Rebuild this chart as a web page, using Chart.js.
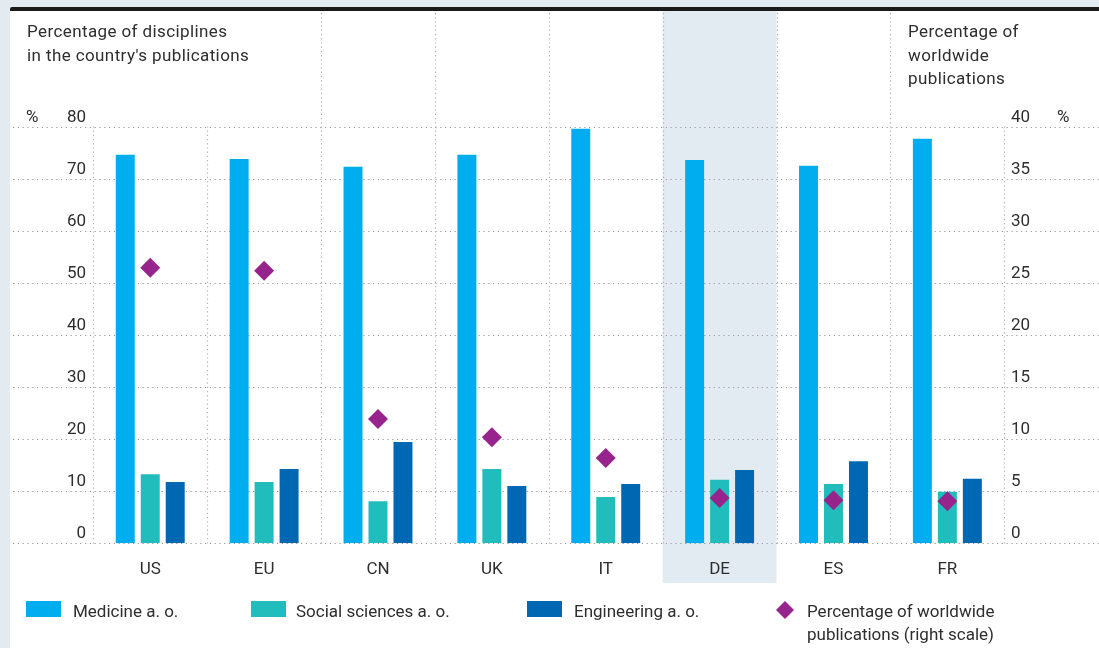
<!DOCTYPE html>
<html>
<head>
<meta charset="utf-8">
<script src="https://cdn.jsdelivr.net/npm/chart.js@4.4.1/dist/chart.umd.min.js"></script>
<style>
  html, body { margin: 0; padding: 0; background: #e3ebf1; }
  body { width: 1099px; height: 648px; position: relative; overflow: hidden; }
  .bar { position: absolute; left: 10px; top: 7px; width: 1089px; height: 4px; background: #1a1a1a; border-top-left-radius: 2px; }
  .panel { position: absolute; left: 10px; top: 11px; width: 1089px; height: 637px; background: #fff; }
  canvas { display: block; }
</style>
</head>
<body>
<div class="bar"></div>
<div class="panel"><canvas id="chart" width="1089" height="637"></canvas></div>
<script>
const CATEGORIES = ['US', 'EU', 'CN', 'UK', 'IT', 'DE', 'ES', 'FR'];
const HIGHLIGHT = 'DE';
const MEDICINE = [74.7, 73.9, 72.4, 74.7, 79.7, 73.7, 72.6, 77.8];
const SOCIAL = [13.3, 11.8, 8.1, 14.3, 8.9, 12.2, 11.4, 9.9];
const ENGINEERING = [11.8, 14.3, 19.5, 11.0, 11.4, 14.1, 15.8, 12.4];
const WORLDWIDE = [26.5, 26.2, 11.95, 10.2, 8.2, 4.35, 4.15, 4.05];
const LEFT_TICKS = [0, 10, 20, 30, 40, 50, 60, 70, 80];
const RIGHT_TICKS = [0, 5, 10, 15, 20, 25, 30, 35, 40];

const C_MED = '#00aeef', C_SOC = '#20bdbc', C_ENG = '#0067b3', C_DIA = '#97248d';
const TXT = '#2e2e2e';
const FONT = '17px Roboto, "DejaVu Sans", sans-serif';

function dotted(ctx, x1, y1, x2, y2, dash, color) {
  ctx.save();
  ctx.strokeStyle = color;
  ctx.lineWidth = 1.2;
  ctx.setLineDash(dash);
  ctx.beginPath();
  ctx.moveTo(x1, y1);
  ctx.lineTo(x2, y2);
  ctx.stroke();
  ctx.restore();
}

const extras = {
  id: 'extras',
  beforeDatasetsDraw(chart) {
    const { ctx, chartArea, scales } = chart;
    const x = scales.x, y = scales.y, y1 = scales.y1;
    const step = x.getPixelForValue(1) - x.getPixelForValue(0);
    const W = chart.width;

    // highlighted country band
    const hi = CATEGORIES.indexOf(HIGHLIGHT);
    ctx.fillStyle = '#e2ebf1';
    ctx.fillRect(x.getPixelForValue(hi) - step / 2, 0, step, 572);

    // vertical separators
    for (let i = 0; i <= CATEGORIES.length; i++) {
      const px = Math.round(x.getPixelForValue(i) - step / 2) + 0.5;
      dotted(ctx, px, 2, px, chartArea.bottom + 3, [1.2, 3], '#b0b0b0');
    }

    // title boxes hide the separators
    ctx.fillStyle = '#fff';
    ctx.fillRect(5, 0, 230, chartArea.top - 3);
    ctx.fillRect(890, 0, W - 890, chartArea.top - 3);

    // horizontal grid
    LEFT_TICKS.forEach(v => {
      const py = Math.round(y.getPixelForValue(v)) + 0.5;
      dotted(ctx, 3, py, W, py, [1.2, 3.6], '#9a9a9a');
    });

    ctx.save();
    ctx.font = FONT;
    ctx.fillStyle = TXT;
    ctx.textBaseline = 'alphabetic';

    // titles
    ctx.textAlign = 'left';
    ctx.letterSpacing = '0.4px';
    ctx.fillText('Percentage of disciplines', 17, 26);
    ctx.fillText("in the country's publications", 17, 50);
    ctx.fillText('Percentage of', 898, 26);
    ctx.fillText('worldwide', 898, 50);
    ctx.fillText('publications', 898, 73);
    ctx.letterSpacing = '0px';

    // left ticks
    ctx.textAlign = 'right';
    LEFT_TICKS.forEach(v => ctx.fillText(String(v), 76, y.getPixelForValue(v) - 5.5));
    ctx.textAlign = 'left';
    ctx.fillText('%', 16, y.getPixelForValue(80) - 5.5);

    // right ticks
    RIGHT_TICKS.forEach(v => ctx.fillText(String(v), 1001, y1.getPixelForValue(v) - 5.5));
    ctx.fillText('%', 1047, y1.getPixelForValue(40) - 5.5);

    // category labels
    ctx.textAlign = 'center';
    CATEGORIES.forEach((c, i) => ctx.fillText(c, x.getPixelForValue(i), 563));

    // legend
    ctx.textAlign = 'left';
    const items = [
      { color: C_MED, label: 'Medicine a. o.', sx: 16, tx: 63 },
      { color: C_SOC, label: 'Social sciences a. o.', sx: 241, tx: 286 },
      { color: C_ENG, label: 'Engineering a. o.', sx: 517, tx: 564 },
    ];
    items.forEach(it => {
      ctx.fillStyle = it.color;
      ctx.fillRect(it.sx, 590, 35, 16);
      ctx.fillStyle = TXT;
      ctx.fillText(it.label, it.tx, 606);
    });
    ctx.fillStyle = C_DIA;
    ctx.beginPath();
    ctx.moveTo(775, 590); ctx.lineTo(784, 599); ctx.lineTo(775, 608); ctx.lineTo(766, 599);
    ctx.closePath();
    ctx.fill();
    ctx.fillStyle = TXT;
    ctx.fillText('Percentage of worldwide', 797, 606);
    ctx.fillText('publications (right scale)', 797, 629);
    ctx.restore();
  }
};

const barStyle = { categoryPercentage: 0.658, barPercentage: 0.76, borderWidth: 0, yAxisID: 'y', order: 1 };

new Chart(document.getElementById('chart'), {
  type: 'bar',
  data: {
    labels: CATEGORIES,
    datasets: [
      {
        type: 'line', label: 'Percentage of worldwide publications (right scale)', data: WORLDWIDE,
        yAxisID: 'y1', showLine: false, pointStyle: 'rectRot', pointRadius: 10, pointHoverRadius: 10,
        backgroundColor: C_DIA, borderColor: C_DIA, borderWidth: 0, order: 0
      },
      { label: 'Medicine a. o.', data: MEDICINE, backgroundColor: C_MED, ...barStyle },
      { label: 'Social sciences a. o.', data: SOCIAL, backgroundColor: C_SOC, ...barStyle },
      { label: 'Engineering a. o.', data: ENGINEERING, backgroundColor: C_ENG, ...barStyle },
    ]
  },
  options: {
    responsive: false,
    animation: false,
    layout: { padding: { left: 83.3, right: 94.7, top: 116.3, bottom: 104.7 } },
    plugins: { legend: { display: false }, tooltip: { enabled: false } },
    scales: {
      x: { display: false, offset: true },
      y: { display: false, min: 0, max: 80 },
      y1: { display: false, min: 0, max: 40, position: 'right' }
    }
  },
  plugins: [extras]
});
</script>
</body>
</html>
